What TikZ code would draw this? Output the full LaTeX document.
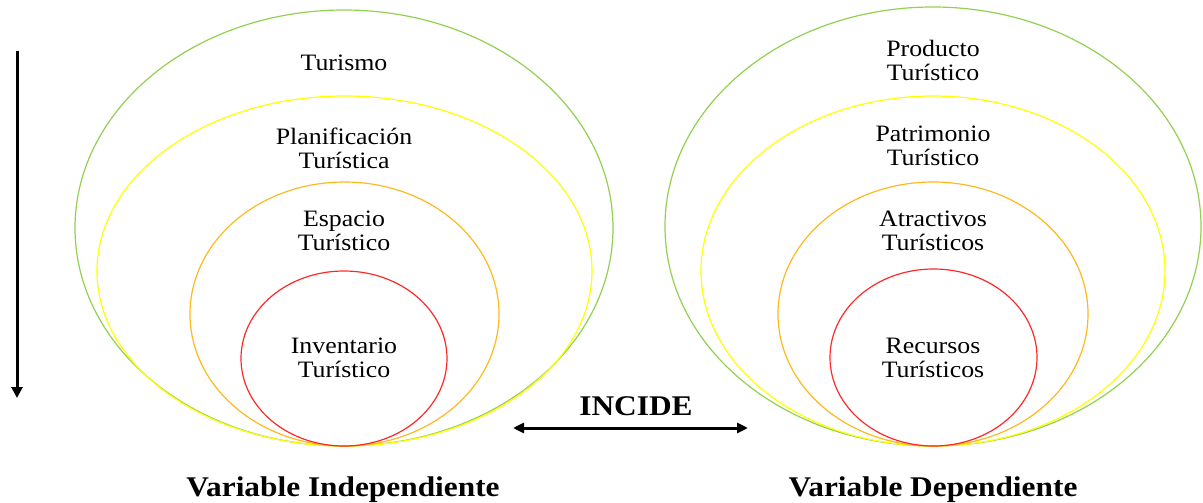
\documentclass[tikz,border=0pt]{standalone}
\usepackage{fontspec}
\setmainfont{Liberation Serif}[FakeStretch=1.1]
\usetikzlibrary{arrows.meta}
\definecolor{ringgreen}{RGB}{146,208,80}
\definecolor{ringyellow}{RGB}{255,255,0}
\definecolor{ringorange}{RGB}{255,184,30}
\definecolor{ringred}{RGB}{255,40,40}

\begin{document}
\begin{tikzpicture}[x=1pt,y=-1pt,
  ring/.style={line width=1.2pt},
  lbl/.style={align=center,inner sep=0pt,font=\fontsize{23.5}{24}\selectfont},
  varlbl/.style={inner sep=0pt,anchor=base,font=\fontsize{28.5}{30}\selectfont\bfseries},
  bigarrow/.style={line width=3pt}]
\useasboundingbox (0,0) rectangle (1203,503);
\draw[ring,ringgreen] (344,228) ellipse [x radius=269,y radius=218];
\draw[ring,ringyellow] (344.5,271) ellipse [x radius=247.5,y radius=175];
\draw[ring,ringorange] (344.5,314) ellipse [x radius=154.5,y radius=132];
\draw[ring,ringred] (344,358.5) ellipse [x radius=103,y radius=87.5];
\draw[ring,ringgreen] (933,226.5) ellipse [x radius=268,y radius=219.5];
\draw[ring,ringyellow] (933,271) ellipse [x radius=232,y radius=175];
\draw[ring,ringorange] (933,314) ellipse [x radius=155,y radius=132];
\draw[ring,ringred] (933.5,357.5) ellipse [x radius=103.5,y radius=88.5];
\node[lbl,anchor=base] (turismo) at (344,70.7) {Turismo};
\node[lbl] (planif) at (344,148) {Planificación\\Turística};
\node[lbl] (espacio) at (344,231) {Espacio\\Turístico};
\node[lbl] (inventario) at (344,357.7) {Inventario\\Turístico};
\node[lbl] (producto) at (933,60.8) {Producto\\Turístico};
\node[lbl] (patrimonio) at (933,146) {Patrimonio\\Turístico};
\node[lbl] (atractivos) at (933,231) {Atractivos\\Turísticos};
\node[lbl] (recursos) at (933,357.7) {Recursos\\Turísticos};
\node[varlbl] (incide) at (636,415.7) {INCIDE};
\node[varlbl] (indep) at (343,496) {Variable Independiente};
\node[varlbl] (dep) at (933,496) {Variable Dependiente};
\coordinate (dtop) at (17,51);
\coordinate (dbot) at (17,398);
\coordinate (incl) at (513,428);
\coordinate (incr) at (748,428);
\draw[bigarrow,-{Triangle[width=11pt,length=11pt]}] (dtop) -- (dbot);
\draw[bigarrow,{Triangle[width=10pt,length=11pt]}-{Triangle[width=10pt,length=11pt]}] (incl) -- (incr);
\end{tikzpicture}
\end{document}
